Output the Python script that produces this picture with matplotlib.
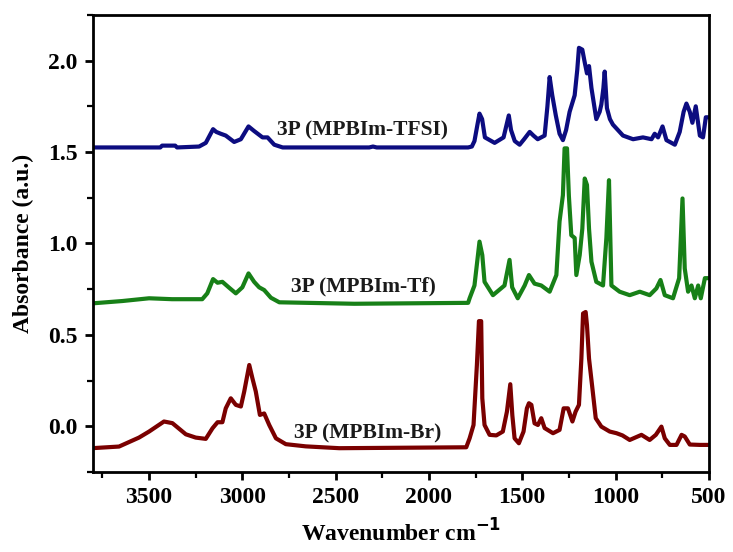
import matplotlib.pyplot as plt
from matplotlib.ticker import MultipleLocator

# FTIR spectra of the three 3P membranes
tfsi_wn = [3806, 3440, 3430, 3360, 3350, 3232, 3196, 3157, 3140, 3116, 3089, 3044, 3008,
           2967, 2937, 2892, 2865, 2829, 2784, 2320, 2300, 2280, 1790, 1770, 1756, 1740,
           1729, 1715, 1700, 1648, 1600, 1572, 1560, 1540, 1514, 1490, 1460, 1440, 1417,
           1380, 1365, 1353, 1339, 1320, 1300, 1282, 1265, 1246, 1219, 1205, 1196, 1178,
           1165, 1153, 1142, 1129, 1103, 1085, 1076, 1065, 1058, 1046, 1030, 1014, 960,
           906, 853, 807, 790, 772, 748, 727, 682, 656, 635, 620, 602, 588, 570, 548, 531,
           516, 500]
tfsi_abs = [1.525, 1.525, 1.535, 1.535, 1.525, 1.53, 1.55, 1.625, 1.61, 1.60, 1.59, 1.555,
            1.57, 1.64, 1.615, 1.58, 1.58, 1.54, 1.525, 1.525, 1.53, 1.525, 1.525, 1.53,
            1.56, 1.65, 1.71, 1.68, 1.58, 1.55, 1.58, 1.70, 1.62, 1.56, 1.54, 1.57, 1.61,
            1.59, 1.57, 1.59, 1.75, 1.91, 1.81, 1.70, 1.60, 1.565, 1.62, 1.72, 1.81, 1.95,
            2.07, 2.06, 1.99, 1.93, 1.97, 1.85, 1.68, 1.72, 1.76, 1.85, 1.94, 1.74, 1.68,
            1.65, 1.59, 1.57, 1.58, 1.57, 1.60, 1.58, 1.64, 1.565, 1.54, 1.61, 1.72, 1.765,
            1.72, 1.66, 1.75, 1.59, 1.58, 1.69, 1.69]

tf_wn = [3806, 3643, 3500, 3377, 3215, 3188, 3157, 3133, 3107, 3071, 3035, 3000, 2967,
         2937, 2910, 2883, 2847, 2802, 2400, 1790, 1782, 1756, 1729, 1714, 1702, 1657,
         1595, 1568, 1554, 1524, 1487, 1464, 1434, 1398, 1353, 1317, 1300, 1282, 1273,
         1260, 1250, 1237, 1219, 1210, 1192, 1178, 1165, 1153, 1142, 1129, 1103, 1067,
         1049, 1035, 1022, 978, 924, 870, 817, 781, 759, 736, 692, 659, 641, 629, 611,
         593, 575, 557, 543, 521, 500]
tf_abs = [0.672, 0.685, 0.70, 0.695, 0.695, 0.727, 0.805, 0.785, 0.79, 0.758, 0.727, 0.76,
          0.836, 0.79, 0.76, 0.745, 0.703, 0.678, 0.67, 0.675, 0.70, 0.77, 1.01, 0.936,
          0.79, 0.717, 0.77, 0.91, 0.76, 0.70, 0.77, 0.827, 0.78, 0.77, 0.736, 0.827, 1.12,
          1.264, 1.52, 1.52, 1.26, 1.045, 1.03, 0.827, 0.936, 1.08, 1.355, 1.32, 1.08,
          0.90, 0.79, 0.77, 1.03, 1.346, 0.77, 0.736, 0.717, 0.736, 0.717, 0.754, 0.80,
          0.717, 0.70, 0.81, 1.246, 0.863, 0.736, 0.77, 0.70, 0.77, 0.70, 0.81, 0.81]

br_wn = [3806, 3661, 3554, 3500, 3420, 3375, 3303, 3250, 3196, 3160, 3133, 3107, 3089,
         3062, 3035, 3008, 2990, 2963, 2946, 2928, 2906, 2883, 2856, 2820, 2767, 2660,
         2481, 1800, 1782, 1761, 1743, 1732, 1720, 1714, 1702, 1675, 1639, 1604, 1582,
         1564, 1553, 1541, 1518, 1493, 1475, 1464, 1451, 1434, 1416, 1398, 1380, 1335,
         1300, 1278, 1255, 1231, 1214, 1196, 1183, 1174, 1160, 1153, 1142, 1124, 1106,
         1076, 1031, 995, 963, 924, 861, 817, 784, 754, 736, 709, 673, 646, 629, 602,
         548, 500]
br_abs = [-0.12, -0.111, -0.062, -0.029, 0.026, 0.017, -0.044, -0.062, -0.069, -0.011,
          0.022, 0.022, 0.098, 0.153, 0.117, 0.108, 0.19, 0.335, 0.262, 0.19, 0.062, 0.07,
          0.007, -0.066, -0.098, -0.11, -0.12, -0.115, -0.066, 0.007, 0.335, 0.575, 0.575,
          0.153, 0.007, -0.047, -0.05, -0.029, 0.08, 0.23, 0.06, -0.066, -0.093, -0.029,
          0.098, 0.126, 0.117, 0.016, 0.007, 0.044, -0.01, -0.038, -0.02, 0.098, 0.098,
          0.026, 0.08, 0.117, 0.37, 0.617, 0.625, 0.553, 0.37, 0.208, 0.044, -0.002,
          -0.029, -0.038, -0.05, -0.075, -0.047, -0.075, -0.047, -0.002, -0.066, -0.102,
          -0.102, -0.047, -0.056, -0.1, -0.102, -0.102]

labels = ["3P (MPBIm-TFSI)", "3P (MPBIm-Tf)", "3P (MPBIm-Br)"]
label_pos = [(2357, 1.62), (2351, 0.765), (2330, -0.04)]

plt.rcParams['font.family'] = ['Liberation Serif', 'DejaVu Serif']
plt.rcParams['font.weight'] = 'bold'

fig = plt.figure(figsize=(7.33, 5.52), dpi=100)
ax = fig.add_axes([0.127, 0.145, 0.840, 0.828])

ax.plot(tfsi_wn, tfsi_abs, color='#0c0c80', lw=3)
ax.plot(tf_wn, tf_abs, color='#178017', lw=3)
ax.plot(br_wn, br_abs, color='#7a0000', lw=3)

for txt, (x, y) in zip(labels, label_pos):
    ax.text(x, y, txt, ha='center', va='center', fontsize=15.5, fontweight='bold',
            color='#1a1a1a')

ax.set_xlim(3800, 500)
ax.set_ylim(-0.25, 2.25)
ax.xaxis.set_major_locator(MultipleLocator(500))
ax.xaxis.set_minor_locator(MultipleLocator(250))
ax.yaxis.set_major_locator(MultipleLocator(0.5))
ax.yaxis.set_minor_locator(MultipleLocator(0.25))
ax.yaxis.set_major_formatter(plt.FormatStrFormatter('%.1f'))

for s in ax.spines.values():
    s.set_linewidth(2)
ax.tick_params(which='major', direction='out', length=6, width=2, labelsize=17, pad=5)
ax.tick_params(which='minor', direction='out', length=4, width=1.6)
for lab in ax.get_xticklabels() + ax.get_yticklabels():
    lab.set_fontweight('bold')

ax.set_xlabel("Wavenumber cm$^{\\mathbf{-1}}$", fontsize=17, fontweight='bold', labelpad=8)
ax.set_ylabel("Absorbance (a.u.)", fontsize=17, fontweight='bold', labelpad=10)

fig.savefig('out.png', dpi=100)
